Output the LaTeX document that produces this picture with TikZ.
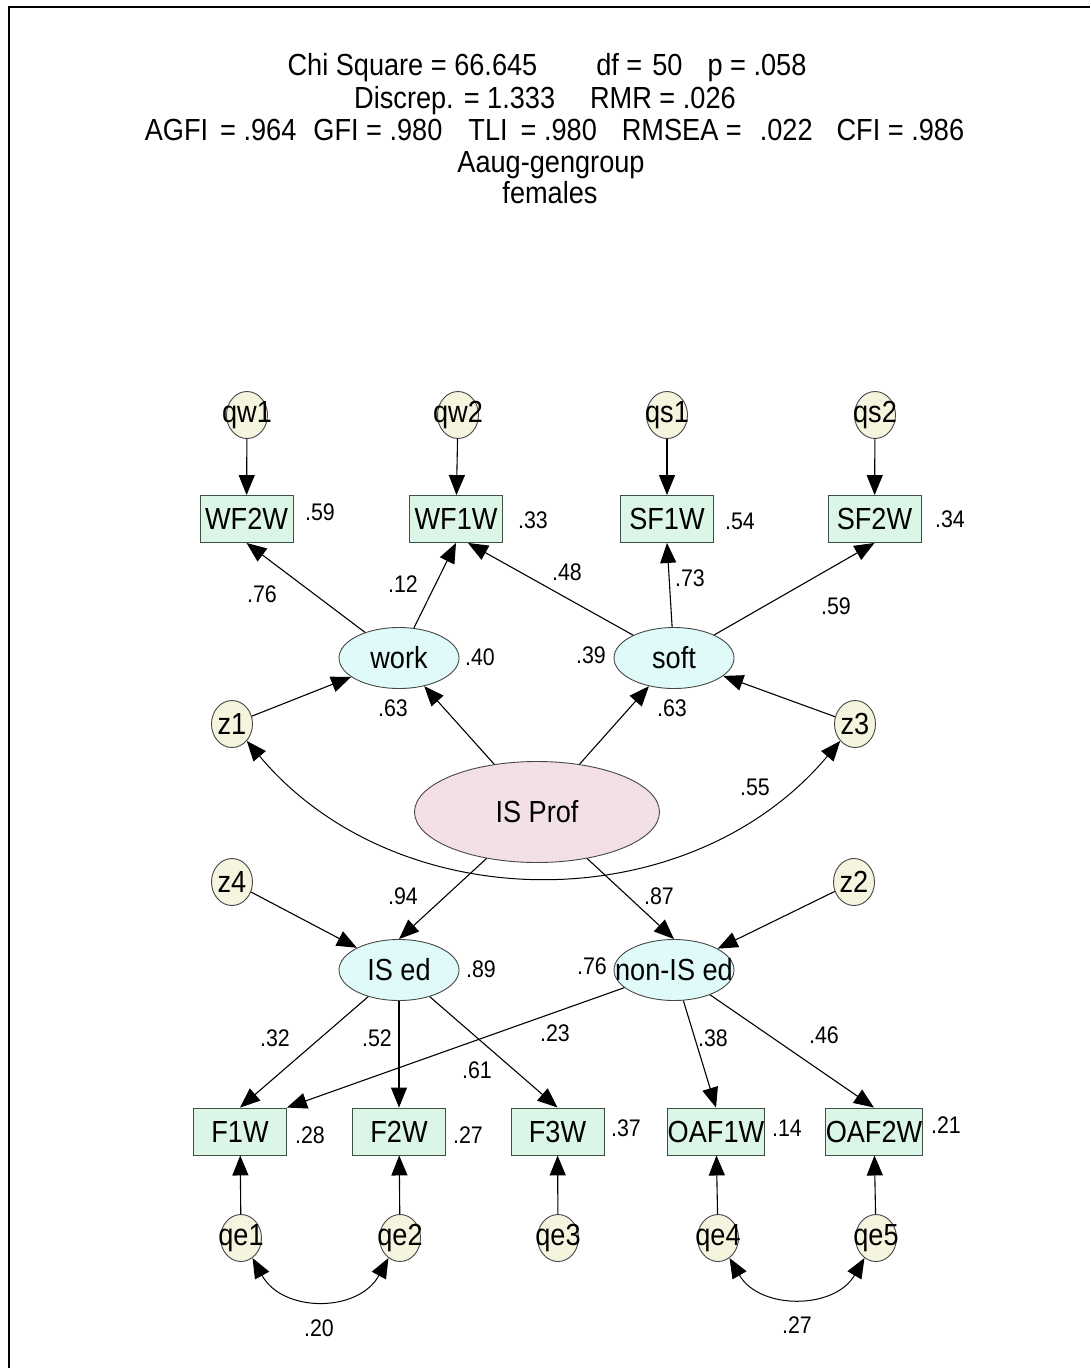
\documentclass[tikz,border=0pt]{standalone}
\usepackage{fontspec}
\setmainfont{Liberation Sans}[FakeStretch=0.89]
\usetikzlibrary{arrows.meta,shapes.geometric}
\definecolor{boxfill}{RGB}{219,245,231}
\definecolor{boxdraw}{RGB}{60,80,70}
\definecolor{ellfill}{RGB}{224,250,250}
\definecolor{pinkfill}{RGB}{242,224,230}
\definecolor{errfill}{RGB}{245,244,222}
\definecolor{elldraw}{RGB}{70,70,70}
\newcommand\myttl{\fontsize{30.5}{34}\selectfont}
\newcommand\mynode{\fontsize{30.5}{34}\selectfont}
\newcommand\mylab{\fontsize{24}{28}\selectfont}
\begin{document}
\begin{tikzpicture}[x=1pt,y=-1pt,
  ttl/.style={font=\myttl, inner sep=0pt, anchor=base},
  obs/.style={rectangle, draw=boxdraw, fill=boxfill, line width=0.9pt, minimum width=93pt, minimum height=47pt, inner sep=0pt, font=\mynode},
  lat/.style={ellipse, draw=elldraw, fill=ellfill, line width=0.9pt, minimum width=120pt, minimum height=61pt, inner sep=0pt},
  errc/.style={ellipse, draw=elldraw, fill=errfill, line width=0.9pt, minimum width=41pt, minimum height=47pt, inner sep=0pt},
  lbl/.style={font=\mylab, inner sep=0pt},
  tip/.style={-{Triangle[length=20pt,width=16pt]}, line width=1.1pt},
  cov/.style={{Triangle[length=20pt,width=16pt]}-{Triangle[length=20pt,width=16pt]}, line width=1pt},
  every label/.style={font=\mynode, inner sep=0pt}]
\useasboundingbox (0,0) rectangle (1090,1368);
\fill[white] (0,0) rectangle (1090,1368);
\draw[line width=2.6pt] (9,1368) -- (9,7) -- (1090,7);

% title
\node[ttl] (t1) at (547,75) {Chi Square = 66.645\hspace{59pt}df =\hspace{10pt}50\hspace{25pt}p = .058};
\node[ttl] (t2) at (545,108) {Discrep. = 1.333\hspace{35pt}RMR = .026};
\node[ttl] (t3) at (554.5,140) {AGFI\hspace{12pt}= .964\hspace{17pt}GFI = .980\hspace{26pt}TLI\hspace{13pt}= .980\hspace{25pt}RMSEA =\hspace{18pt}.022\hspace{24pt}CFI = .986};
\node[ttl] (t4) at (551,172) {Aaug-gengroup};
\node[ttl] (t5) at (550,203) {females};

% top error circles
\node[errc, label=center:qw1] (qw1) at (247,415) {};
\node[errc, label=center:qw2] (qw2) at (458,415) {};
\node[errc, label=center:qs1] (qs1) at (667,415) {};
\node[errc, label=center:qs2] (qs2) at (875,415) {};

% top boxes
\node[obs] (WF2W) at (246.5,519) {WF2W};
\node[obs] (WF1W) at (456,519) {WF1W};
\node[obs] (SF1W) at (667,519) {SF1W};
\node[obs] (SF2W) at (874.5,519) {SF2W};

% latent
\node[lat, label=center:work] (work) at (399,658) {};
\node[lat, label=center:soft] (soft) at (674,658) {};
\node[errc, label=center:z1] (z1) at (232,724) {};
\node[errc, label=center:z3] (z3) at (855,724) {};
\node[ellipse, draw=elldraw, fill=pinkfill, line width=0.9pt, minimum width=245pt, minimum height=101pt, inner sep=0pt, label=center:IS Prof] (ISProf) at (537,812) {};
\node[errc, label=center:z4] (z4) at (232,882) {};
\node[errc, label=center:z2] (z2) at (854,882) {};
\node[lat, label=center:IS ed] (ISed) at (399,970) {};
\node[lat, label=center:non-IS ed] (nonISed) at (674,970) {};

% bottom boxes
\node[obs] (F1W) at (240,1131.5) {F1W};
\node[obs] (F2W) at (399,1131.5) {F2W};
\node[obs] (F3W) at (557.5,1131.5) {F3W};
\node[obs] (OAF1W) at (716,1131.5) {OAF1W};
\node[obs] (OAF2W) at (874,1131.5) {OAF2W};

% bottom error circles
\node[errc, label=center:qe1] (qe1) at (241,1238) {};
\node[errc, label=center:qe2] (qe2) at (400,1238) {};
\node[errc, label=center:qe3] (qe3) at (558,1238) {};
\node[errc, label=center:qe4] (qe4) at (718,1238) {};
\node[errc, label=center:qe5] (qe5) at (876,1238) {};

% arrows top
\draw[tip] (qw1) -- (WF2W);
\draw[tip] (qw2) -- (WF1W);
\draw[tip] (qs1) -- (SF1W);
\draw[tip] (qs2) -- (SF2W);
\draw[tip] (work) -- (WF2W.south);
\draw[tip] (work) -- (WF1W.south);
\draw[tip] (soft) -- ([xshift=12pt]WF1W.south);
\draw[tip] (soft) -- (SF1W.south);
\draw[tip] (soft) -- (SF2W.south);
\draw[tip] (z1) -- (work);
\draw[tip] (z3) -- (soft);
\draw[tip] (ISProf) -- (work);
\draw[tip] (ISProf) -- (soft);
\draw[tip] (ISProf) -- (ISed.north);
\draw[tip] (ISProf) -- (nonISed.north);
\draw[tip] (z4) -- (ISed);
\draw[tip] (z2) -- (nonISed);
\draw[tip] (ISed) -- (F1W.north);
\draw[tip] (ISed) -- (F2W.north);
\draw[tip] (ISed) -- (F3W.north);
\draw[tip] (nonISed) -- (F1W.north east);
\draw[tip] (nonISed) -- (OAF1W.north);
\draw[tip] (nonISed) -- (OAF2W.north);
\draw[tip] (qe1) -- (F1W);
\draw[tip] (qe2) -- (F2W);
\draw[tip] (qe3) -- (F3W);
\draw[tip] (qe4) -- (OAF1W);
\draw[tip] (qe5) -- (OAF2W);

% covariances
\draw[cov] (z1.south east) .. controls +(151,180) and +(-151,180) .. (z3.south west);
\draw[cov] (qe1.-60) .. controls +(30,55) and +(-30,55) .. (qe2.-120);
\draw[cov] (qe4.-60) .. controls +(30,52) and +(-30,52) .. (qe5.-120);

% labels
\node[lbl] (l1) at (320,512) {.59};
\node[lbl] (l2) at (533,520) {.33};
\node[lbl] (l3) at (740,521) {.54};
\node[lbl] (l4) at (950,519) {.34};
\node[lbl] (l5) at (262,594) {.76};
\node[lbl] (l6) at (403,584) {.12};
\node[lbl] (l7) at (567,572) {.48};
\node[lbl] (l8) at (690,578) {.73};
\node[lbl] (l9) at (836,606) {.59};
\node[lbl] (l10) at (480,657) {.40};
\node[lbl] (l11) at (591,655) {.39};
\node[lbl] (l12) at (393,708) {.63};
\node[lbl] (l13) at (672,708) {.63};
\node[lbl] (l14) at (755,787) {.55};
\node[lbl] (l15) at (403,896) {.94};
\node[lbl] (l16) at (659,896) {.87};
\node[lbl] (l17) at (481,969) {.89};
\node[lbl] (l18) at (592,966) {.76};
\node[lbl] (l19) at (275,1038) {.32};
\node[lbl] (l20) at (377,1038) {.52};
\node[lbl] (l21) at (555,1033) {.23};
\node[lbl] (l22) at (477,1070) {.61};
\node[lbl] (l23) at (713,1038) {.38};
\node[lbl] (l24) at (824,1035) {.46};
\node[lbl] (l25) at (310,1135) {.28};
\node[lbl] (l26) at (468,1135) {.27};
\node[lbl] (l27) at (626,1128) {.37};
\node[lbl] (l28) at (787,1128) {.14};
\node[lbl] (l29) at (946,1125) {.21};
\node[lbl] (l30) at (319,1328) {.20};
\node[lbl] (l31) at (797,1325) {.27};
\end{tikzpicture}
\end{document}
